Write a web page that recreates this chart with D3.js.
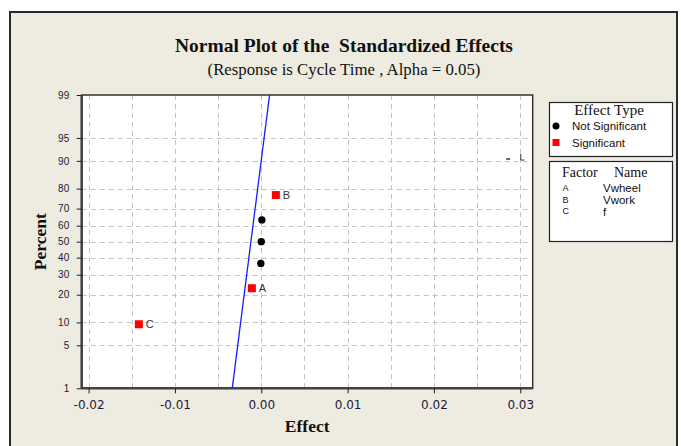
<!DOCTYPE html>
<html><head><meta charset="utf-8">
<script src="https://cdn.jsdelivr.net/npm/d3@7/dist/d3.min.js"></script>
<style>
html,body{margin:0;padding:0;background:#fff;}
svg{display:block;}
</style></head>
<body>
<script>
// ---- data ----
const pointLabels = ["C", "A", "", "", "", "B"];
const pointEffects = [-0.01418, -0.00109, -0.00005, 0.00000, 0.00007, 0.00169];
const pointPercents = [9.5, 23.0, 36.5, 50.0, 63.5, 77.0];
const pointSignificant = [true, true, false, false, false, true];
const lineEffects = [-0.00336, 0.00096];   // fitted line at 1% and 99%
const linePercents = [1, 99];
const xTicks = [-0.02, -0.01, 0.00, 0.01, 0.02, 0.03];
const xGrid = [-0.02, -0.015, -0.01, -0.005, 0, 0.005, 0.01, 0.015, 0.02, 0.025, 0.03];
const yTicks = [1, 5, 10, 20, 30, 40, 50, 60, 70, 80, 90, 95, 99];
const yGrid = [5, 10, 20, 30, 40, 50, 60, 70, 80, 90, 95];
const factorLetters = ["A", "B", "C"];
const factorNames = ["Vwheel", "Vwork", "f"];
const effectTypes = ["Not Significant", "Significant"];

// inverse normal CDF (Acklam)
function probit(p){
  const a=[-3.969683028665376e+01,2.209460984245205e+02,-2.759285104469687e+02,1.383577518672690e+02,-3.066479806614716e+01,2.506628277459239e+00];
  const b=[-5.447609879822406e+01,1.615858368580409e+02,-1.556989798598866e+02,6.680131188771972e+01,-1.328068155288572e+01];
  const c=[-7.784894002430293e-03,-3.223964580411365e-01,-2.400758277161838e+00,-2.549671058016124e+00,4.374664141464968e+00,2.938163982698783e+00];
  const d=[7.784695709041462e-03,3.224671290700398e-01,2.445134137142996e+00,3.754408661907416e+00];
  const pl=0.02425, ph=1-pl; let q,r;
  if(p<pl){q=Math.sqrt(-2*Math.log(p));return (((((c[0]*q+c[1])*q+c[2])*q+c[3])*q+c[4])*q+c[5])/((((d[0]*q+d[1])*q+d[2])*q+d[3])*q+1);}
  if(p<=ph){q=p-0.5;r=q*q;return (((((a[0]*r+a[1])*r+a[2])*r+a[3])*r+a[4])*r+a[5])*q/(((((b[0]*r+b[1])*r+b[2])*r+b[3])*r+b[4])*r+1);}
  q=Math.sqrt(-2*Math.log(1-p));return -(((((c[0]*q+c[1])*q+c[2])*q+c[3])*q+c[4])*q+c[5])/((((d[0]*q+d[1])*q+d[2])*q+d[3])*q+1);
}

const W=681,H=446;
const svg=d3.select("body").append("svg").attr("width",W).attr("height",H);
svg.append("rect").attr("width",W).attr("height",H).attr("fill","#fff");
svg.append("rect").attr("x",10).attr("y",12).attr("width",667).attr("height",H).attr("fill","#EEEBE0")
   .attr("stroke","#2a2a2a").attr("stroke-width",2);

const L=81.7,R=532.7,T=95,B=388.3;
const x=d3.scaleLinear().domain([-0.0208,0.03144]).range([L,R]);
const zs=d3.scaleLinear().domain([probit(0.01),probit(0.99)]).range([B,T]);
const y=p=>zs(probit(p/100));

svg.append("rect").attr("x",L).attr("y",T).attr("width",R-L).attr("height",B-T).attr("fill","#fff");

const grid=svg.append("g").attr("stroke","#c4c4c4").attr("stroke-width",1).attr("stroke-dasharray","5,4");
grid.selectAll(".vg").data(xGrid).join("line").attr("x1",d=>Math.round(x(d))+0.5).attr("x2",d=>Math.round(x(d))+0.5).attr("y1",T).attr("y2",B);
grid.selectAll(".hg").data(yGrid).join("line").attr("y1",d=>Math.round(y(d))+0.5).attr("y2",d=>Math.round(y(d))+0.5).attr("x1",L).attr("x2",R);

// frame
svg.append("rect").attr("x",L).attr("y",T).attr("width",R-L).attr("height",B-T).attr("fill","none").attr("stroke","#333").attr("stroke-width",1.5);
svg.append("line").attr("x1",L).attr("x2",L).attr("y1",T).attr("y2",B).attr("stroke","#444").attr("stroke-width",2.5);
svg.append("line").attr("x1",L).attr("x2",R).attr("y1",B).attr("y2",B).attr("stroke","#444").attr("stroke-width",2.5);

// axes
const fmt=d=>d3.format(".2f")(d).replace("\u2212","-");
const xa=svg.append("g").attr("transform",`translate(0,${B})`)
  .call(d3.axisBottom(x).tickValues(xTicks).tickFormat(fmt).tickSize(5).tickPadding(7));
xa.select(".domain").remove();
xa.selectAll("text").attr("font-family","DejaVu Sans, sans-serif").attr("font-size",12).attr("fill","#1a1a3a");
xa.selectAll("line").attr("stroke","#222");
const ya=svg.append("g").attr("transform",`translate(${L},0)`)
  .call(d3.axisLeft(zs).tickValues(yTicks.map(p=>probit(p/100))).tickFormat((d,i)=>yTicks[i]).tickSize(5).tickPadding(7.5));
ya.select(".domain").remove();
ya.selectAll("text").attr("font-family","Liberation Sans, Arial, sans-serif").attr("font-size",10).attr("fill","#1a1a3a");
ya.selectAll("line").attr("stroke","#222");

// fitted line
svg.append("line").attr("x1",x(lineEffects[0])).attr("y1",y(linePercents[0])).attr("x2",x(lineEffects[1])).attr("y2",y(linePercents[1]))
  .attr("stroke","#1a1aff").attr("stroke-width",1.3);

// points
const pts=pointEffects.map((e,i)=>({e,p:pointPercents[i],s:pointSignificant[i],l:pointLabels[i]}));
svg.selectAll(".pc").data(pts.filter(d=>!d.s)).join("circle").attr("cx",d=>x(d.e)).attr("cy",d=>y(d.p)).attr("r",3.7).attr("fill","#000");
svg.selectAll(".ps").data(pts.filter(d=>d.s)).join("rect").attr("x",d=>x(d.e)-4).attr("y",d=>y(d.p)-4).attr("width",8).attr("height",8).attr("fill","#ff0000");
svg.selectAll(".pl").data(pts.filter(d=>d.l)).join("text").attr("x",d=>x(d.e)+7).attr("y",d=>y(d.p)+4)
  .attr("font-family","Liberation Sans, Arial, sans-serif").attr("font-size",11).attr("fill","#333").text(d=>d.l);

// clipped stray marks near 90%
svg.append("line").attr("x1",x(0.0286)-2).attr("x2",x(0.0286)+2).attr("y1",y(90.5)).attr("y2",y(90.5)).attr("stroke","#333").attr("stroke-width",1.5);
svg.append("path").attr("d",`M${x(0.03)+0.5},${y(90.5)-5}V${y(90.5)+1}H${x(0.03)+4}`).attr("fill","none").attr("stroke","#333").attr("stroke-width",1);

// titles
svg.append("text").attr("x",344).attr("y",52).attr("text-anchor","middle").attr("font-family","Liberation Serif, Times New Roman, serif")
  .attr("font-weight","bold").attr("font-size",19.5).attr("fill","#111").attr("xml:space","preserve").style("white-space","pre").text("Normal Plot of the  Standardized Effects");
svg.append("text").attr("x",344).attr("y",75).attr("text-anchor","middle").attr("font-family","Liberation Serif, Times New Roman, serif")
  .attr("font-size",16.8).attr("fill","#111").text("(Response is Cycle Time , Alpha = 0.05)");
svg.append("text").attr("transform",`translate(46,${(T+B)/2}) rotate(-90)`).attr("text-anchor","middle").attr("font-family","Liberation Serif, Times New Roman, serif")
  .attr("font-weight","bold").attr("font-size",17.5).attr("fill","#111").text("Percent");
svg.append("text").attr("x",(L+R)/2).attr("y",432).attr("text-anchor","middle").attr("font-family","Liberation Serif, Times New Roman, serif")
  .attr("font-weight","bold").attr("font-size",17.5).attr("fill","#111").text("Effect");

// legend 1
const lg=svg.append("g");
lg.append("rect").attr("x",549.5).attr("y",102.5).attr("width",123).attr("height",54).attr("fill","#fff").attr("stroke","#222").attr("stroke-width",1.2);
lg.append("text").attr("x",609).attr("y",115).attr("text-anchor","middle").attr("font-family","Liberation Serif, serif").attr("font-size",15).attr("fill","#111").text("Effect Type");
lg.selectAll(".lt").data(effectTypes).join("text").attr("x",572).attr("y",(d,i)=>130+i*16.5).attr("font-family","Liberation Sans, Arial, sans-serif").attr("font-size",11.5).attr("fill","#111").text(d=>d);
lg.append("circle").attr("cx",556).attr("cy",126).attr("r",3.5).attr("fill","#000");
lg.append("rect").attr("x",552.5).attr("y",139).attr("width",7).attr("height",7).attr("fill","#ff0000");

// legend 2
const lg2=svg.append("g");
lg2.append("rect").attr("x",549.5).attr("y",161.5).attr("width",123).attr("height",80).attr("fill","#fff").attr("stroke","#222").attr("stroke-width",1.2);
lg2.append("text").attr("x",562).attr("y",177).attr("font-family","Liberation Serif, serif").attr("font-size",14).attr("fill","#111").text("Factor");
lg2.append("text").attr("x",614).attr("y",177).attr("font-family","Liberation Serif, serif").attr("font-size",14).attr("fill","#111").text("Name");
lg2.selectAll(".fl").data(factorLetters).join("text").attr("x",562.5).attr("y",(d,i)=>191+i*11.5).attr("font-family","Liberation Sans, Arial, sans-serif").attr("font-size",9).attr("fill","#111").text(d=>d);
lg2.selectAll(".fn").data(factorNames).join("text").attr("x",603).attr("y",(d,i)=>192+i*12).attr("font-family","Liberation Sans, Arial, sans-serif").attr("font-size",11.5).attr("fill","#111").text(d=>d);
</script>
</body></html>
